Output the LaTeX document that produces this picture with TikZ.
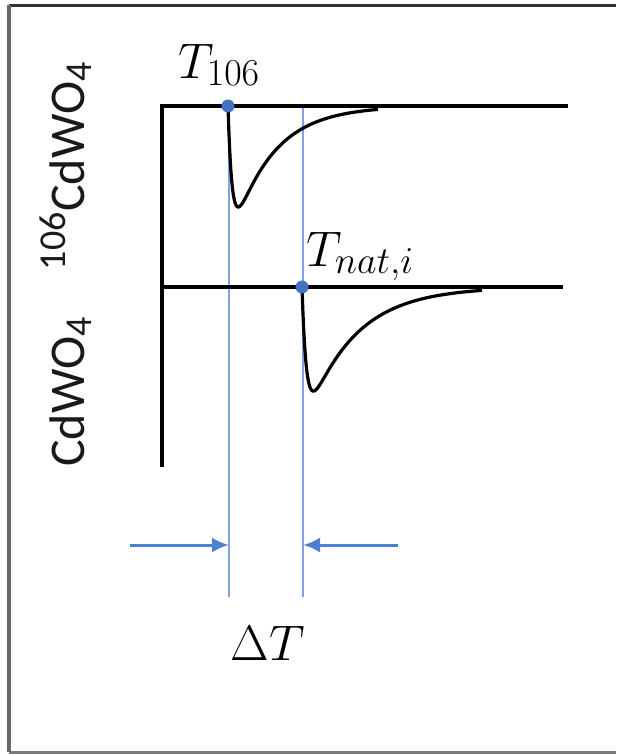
\RequirePackage{fix-cm}
\documentclass[tikz,border=0pt]{standalone}
\usepackage{fontspec}
\setsansfont{Carlito}
\usetikzlibrary{arrows.meta}
\DeclareMathSizes{50}{50}{38}{30}
\definecolor{dotblue}{HTML}{4472C4}
\definecolor{lineblue}{HTML}{7FA2E0}
\definecolor{arrblue}{HTML}{4F7FD3}
\definecolor{frametop}{HTML}{333333}
\definecolor{frameleft}{HTML}{666666}
\definecolor{framebot}{HTML}{7A7A7A}
\definecolor{labelgray}{HTML}{1A1A1A}
\begin{document}
\begin{tikzpicture}[x=1pt,y=-1pt,
  trace/.style={line width=4pt,black},
  pulse/.style={line width=3.2pt,black,line join=round},
  bluev/.style={line width=2.6pt,lineblue},
  arr/.style={line width=3pt,arrblue,-{Latex[length=17pt,width=15pt]}},
  bluedot/.style={circle,fill=dotblue,inner sep=0pt,minimum size=13pt},
  mathlbl/.style={inner sep=0pt,font=\fontsize{50}{60}\selectfont},
  sidelbl/.style={inner sep=0pt,rotate=90,text=labelgray,font=\sffamily\fontsize{50}{60}\selectfont},
  frameline/.style={line width=3pt}]
\useasboundingbox (0,0) rectangle (616,755);
% frame
\coordinate (ftl) at (9,5);
\coordinate (ftr) at (616,5);
\coordinate (fbl) at (9,752);
\coordinate (fbr) at (616,752);
\draw[frameline,frametop] (ftl) -- (ftr);
\draw[frameline,framebot] (fbl) -- (fbr);
\draw[line width=4pt,frameleft] (ftl) -- (fbl);
% blue vertical guide lines
\coordinate (v1t) at (229,106);
\coordinate (v1b) at (229,597);
\coordinate (v2t) at (303,106);
\coordinate (v2b) at (303,597);
\draw[bluev] (v1t) -- (v1b);
\draw[bluev] (v2t) -- (v2b);
% axes / baselines
\coordinate (axtop) at (162,106);
\coordinate (axbot) at (162,467);
\coordinate (topend) at (568,106);
\coordinate (midstart) at (162,287);
\coordinate (midend) at (563,287);
\draw[trace] (axbot) -- (axtop) -- (topend);
\draw[trace] (midstart) -- (midend);
% pulses
\draw[pulse] plot[domain=0:150,samples=200] ({228+\x},{106+145*(exp(-\x/40)-exp(-\x/4))});
\draw[pulse] plot[domain=0:180,samples=220] ({302+\x},{287+145*(exp(-\x/48)-exp(-\x/4.3))});
% dots
\node[bluedot] (d1) at (228,106) {};
\node[bluedot] (d2) at (302,287) {};
% arrows
\coordinate (a1s) at (130,545);
\coordinate (a1e) at (229,545);
\coordinate (a2s) at (398,545);
\coordinate (a2e) at (303,545);
\draw[arr] (a1s) -- (a1e);
\draw[arr] (a2s) -- (a2e);
% labels
\node[mathlbl,anchor=base west] (t106) at (178,78) {$T_{106}$};
\node[mathlbl,anchor=base west] (tnat) at (306,266) {$T_{nat,i}$};
\node[mathlbl,anchor=base] (dT) at (268,660) {$\Delta T$};
\node[sidelbl,anchor=base] (l106) at (84,166) {\textsuperscript{106}CdWO\textsubscript{4}};
\node[sidelbl,anchor=base] (lnat) at (84,392) {CdWO\textsubscript{4}};
\end{tikzpicture}
\end{document}
